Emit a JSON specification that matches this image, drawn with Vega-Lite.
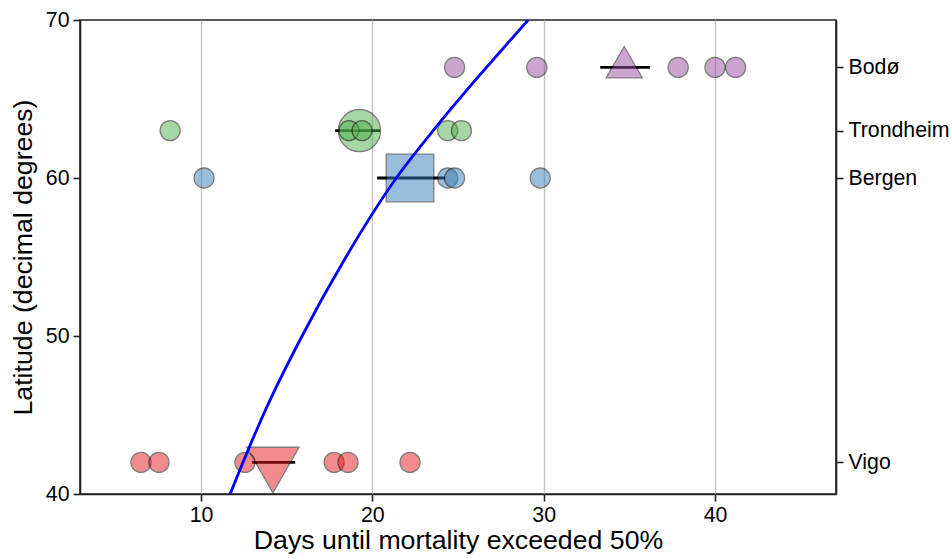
{
  "$schema": "https://vega.github.io/schema/vega-lite/v6.json",
  "width": 756,
  "height": 474,
  "autosize": {"type": "none"},
  "padding": {"left": 80, "top": 20, "right": 116, "bottom": 65},
  "background": "white",
  "datasets": {
    "obs": [
      {"site": "Vigo", "days": 6.5, "lat": 42},
      {"site": "Vigo", "days": 7.55, "lat": 42},
      {"site": "Vigo", "days": 12.57, "lat": 42},
      {"site": "Vigo", "days": 17.77, "lat": 42},
      {"site": "Vigo", "days": 18.58, "lat": 42},
      {"site": "Vigo", "days": 22.2, "lat": 42},
      {"site": "Bergen", "days": 10.18, "lat": 60},
      {"site": "Bergen", "days": 24.4, "lat": 60},
      {"site": "Bergen", "days": 24.8, "lat": 60},
      {"site": "Bergen", "days": 29.8, "lat": 60},
      {"site": "Trondheim", "days": 8.2, "lat": 63},
      {"site": "Trondheim", "days": 18.64, "lat": 63},
      {"site": "Trondheim", "days": 19.4, "lat": 63},
      {"site": "Trondheim", "days": 24.4, "lat": 63},
      {"site": "Trondheim", "days": 25.2, "lat": 63},
      {"site": "Bodø", "days": 24.8, "lat": 67},
      {"site": "Bodø", "days": 29.6, "lat": 67},
      {"site": "Bodø", "days": 37.85, "lat": 67},
      {"site": "Bodø", "days": 40.0, "lat": 67},
      {"site": "Bodø", "days": 41.2, "lat": 67}
    ],
    "means": [
      {"site": "Vigo", "mean": 14.2, "lo": 12.98, "hi": 15.5, "lat": 42},
      {"site": "Bergen", "mean": 22.2, "lo": 20.28, "hi": 24.25, "lat": 60},
      {"site": "Trondheim", "mean": 19.25, "lo": 17.83, "hi": 20.45, "lat": 63},
      {"site": "Bodø", "mean": 34.7, "lo": 33.3, "hi": 36.2, "lat": 67}
    ],
    "curve": [
      {"days": 11.7, "lat": 40.0},
      {"days": 12.45, "lat": 42.0},
      {"days": 13.8, "lat": 45.4},
      {"days": 15.9, "lat": 50.0},
      {"days": 18.3, "lat": 54.7},
      {"days": 21.4, "lat": 60.0},
      {"days": 23.7, "lat": 63.2},
      {"days": 26.1, "lat": 66.3},
      {"days": 29.1, "lat": 70.0}
    ]
  },
  "layer": [
    {
      "data": {"name": "means"},
      "mark": {"type": "rule", "color": "black", "strokeWidth": 2.8},
      "encoding": {
        "x": {"field": "lo", "type": "quantitative", "scale": {"domain": [2.94, 47.06], "nice": false, "zero": false},
              "axis": {"values": [10, 20, 30, 40], "grid": true, "gridColor": "#c4c4c4", "gridWidth": 1.4, "title": "Days until mortality exceeded 50%", "titlePadding": 2, "labelPadding": 3}},
        "x2": {"field": "hi"},
        "y": {"field": "lat", "type": "quantitative", "scale": {"domain": [40, 70], "nice": false, "zero": false},
              "axis": {"values": [40, 50, 60, 70], "title": "Latitude (decimal degrees)", "titlePadding": 8, "labelPadding": 4}}
      }
    },
    {
      "data": {"name": "means"},
      "mark": {"type": "point", "filled": true, "opacity": 0.5, "stroke": "black", "strokeWidth": 1.3},
      "encoding": {
        "x": {"field": "mean", "type": "quantitative"},
        "y": {"field": "lat", "type": "quantitative",
              "axis": {"orient": "right", "values": [42, 60, 63, 67], "title": null, "labelPadding": 5, "grid": false,
                       "labelExpr": "datum.value == 67 ? 'Bodø' : datum.value == 63 ? 'Trondheim' : datum.value == 60 ? 'Bergen' : 'Vigo'"}},
        "color": {"field": "site", "type": "nominal", "legend": null,
                  "scale": {"domain": ["Vigo", "Bergen", "Trondheim", "Bodø"], "range": ["#e41a1c", "#377eb8", "#4daf4a", "#984ea3"]}},
        "shape": {"field": "site", "type": "nominal", "legend": null,
                  "scale": {"domain": ["Vigo", "Bergen", "Trondheim", "Bodø"],
                            "range": ["M0,1.155L1,-0.577L-1,-0.577Z", "square", "circle", "M0,-1.155L1,0.577L-1,0.577Z"]}},
        "size": {"field": "site", "type": "nominal", "legend": null,
                 "scale": {"domain": ["Vigo", "Bergen", "Trondheim", "Bodø"], "range": [2750, 1296, 1560, 2750]}}
      }
    },
    {
      "data": {"name": "obs"},
      "mark": {"type": "point", "filled": true, "opacity": 0.5, "stroke": "black", "strokeWidth": 1.3, "size": 400, "shape": "circle"},
      "encoding": {
        "x": {"field": "days", "type": "quantitative"},
        "y": {"field": "lat", "type": "quantitative", "axis": null},
        "color": {"field": "site", "type": "nominal", "legend": null}
      }
    },
    {
      "data": {"name": "curve"},
      "mark": {"type": "line", "color": "#0000ff", "strokeWidth": 2.8, "interpolate": "monotone", "clip": true},
      "encoding": {
        "x": {"field": "days", "type": "quantitative"},
        "y": {"field": "lat", "type": "quantitative", "axis": null}
      }
    }
  ],
  "resolve": {"axis": {"y": "independent"}},
  "config": {
    "view": {"stroke": "#222222", "strokeWidth": 1.6},
    "axis": {
      "labelFont": "Liberation Sans", "titleFont": "Liberation Sans",
      "labelFontSize": 21.3, "titleFontSize": 26.7, "titleFontWeight": "normal",
      "labelColor": "black", "titleColor": "black",
      "domainColor": "#222222", "domainWidth": 1.6, "tickColor": "#222222", "tickSize": 7, "tickWidth": 1.6,
      "grid": false
    }
  }
}
